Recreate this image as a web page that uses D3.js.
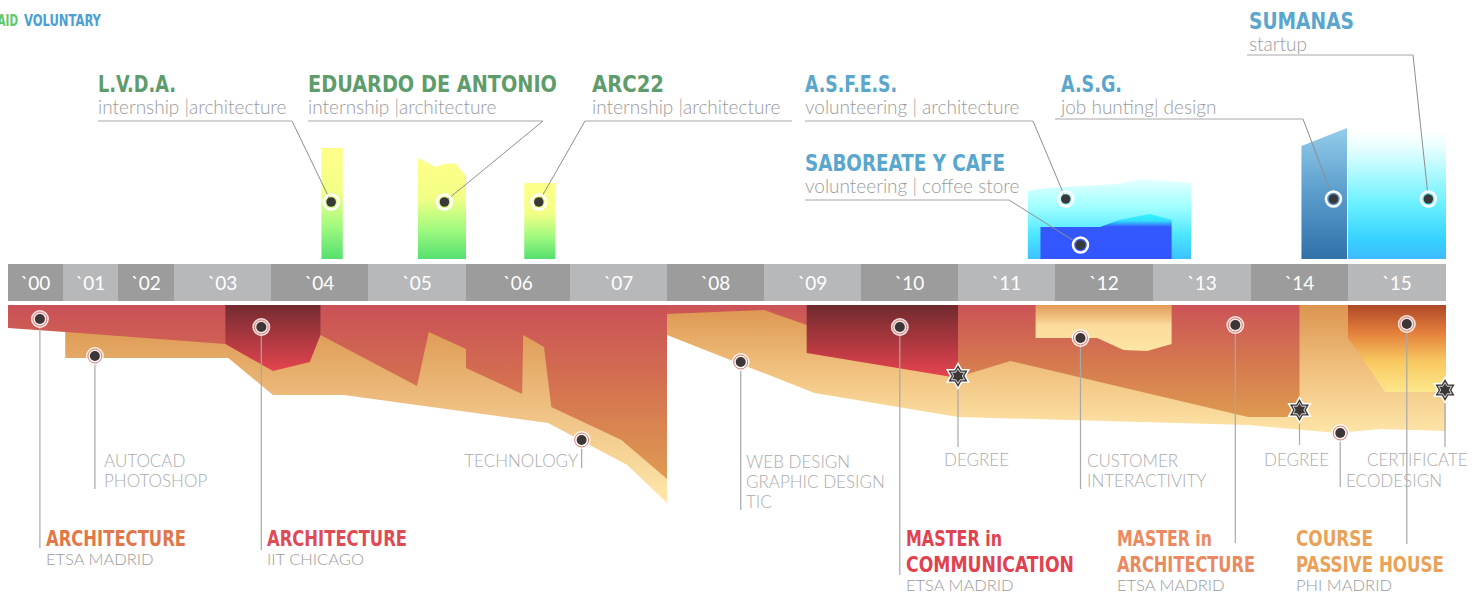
<!DOCTYPE html>
<meta charset="utf-8">
<style>
    body { margin: 0; background: #fff; }
    .head { font-family: 'DejaVu Sans Condensed', 'Liberation Sans Narrow', sans-serif; font-weight: bold; }
    .thin { font-family: Lato, 'Open Sans', sans-serif; font-weight: 300; }
</style>
<body>
<svg width="1477" height="596" id="chart"></svg>
<script src="https://d3js.org/d3.v7.min.js"></script>
<script>

    // ---- data -------------------------------------------------------------

    var yearLabels = ["`00","`01","`02","`03","`04","`05","`06","`07","`08","`09","`10","`11","`12","`13","`14","`15"];
    var yearStarts = d3.range(2000, 2016);

    // lower stream: [year, depth below the band]
    var etsaArea = [[2000,0],[2008,0],[2008,174],[2007.53,135],[2006.82,102],[2006.75,42],[2006.55,30],[2006.54,89],
        [2006.0,63],[2006.0,44],[2005.62,27],[2005.5,81],[2004.51,30],[2003.53,39],[2001.04,27],[2000,23]];
    var skillsArea1 = [[2001.04,20],[2008,20],[2008,198],[2007.59,160],[2006.79,118],[2004.75,90],[2004.02,90],
        [2003.56,53],[2001.04,53]];
    var iitArea = [[2003.53,0],[2004.51,0],[2004.51,30],[2004.4,57],[2004.02,66],[2003.53,39]];
    var skillsArea2 = [[2008,0],[2016,0],[2016,126],[2015.34,124],[2014.88,128],[2013.97,120],[2011,112],
        [2009.52,88],[2008,30]];
    var masterArchArea = [[2008,0],[2014.5,0],[2014.5,112],[2013.97,112],[2011.54,56],[2011,72],[2009.44,20],
        [2009,5],[2008,9]];
    var masterCommArea = [[2009.44,0],[2011,0],[2011,73],[2009.44,48]];
    var customerArea = [[2011.8,0],[2013.19,0],[2013.19,39],[2012.94,46],[2012.7,45],[2012.43,33],[2011.8,33]];
    var passiveArea = [[2015,0],[2016,0],[2016,87],[2015.38,87],[2015,33]];

    // upper stream: [year, height above the band]
    var lvdaArea = [[2004.52,0],[2004.52,111],[2004.74,111],[2004.74,0]];
    var eduardoArea = [[2005.51,0],[2005.51,101],[2005.69,92],[2005.78,95],[2005.89,96],[2006,83],[2006,0]];
    var arc22Area = [[2006.56,0],[2006.56,76],[2006.86,76],[2006.86,0]];
    var asfesArea = [[2011.72,0],[2011.72,68],[2011.91,71],[2012.63,75],[2012.88,80],[2013.39,76],[2013.39,0]];
    var saboreateArea = [[2011.85,0],[2011.85,32],[2012.46,32],[2012.65,39],[2012.97,45],[2013.19,39],[2013.19,0]];
    var asgArea = [[2014.52,0],[2014.52,113],[2014.99,131],[2014.99,0]];
    var sumanasArea = [[2015,0],[2015,128],[2016,128],[2016,0]];

    // studies
    var studyTitles = [["ARCHITECTURE"],["ARCHITECTURE"],["MASTER in","COMMUNICATION"],["MASTER in","ARCHITECTURE"],["COURSE","PASSIVE HOUSE"]];
    var studyPlaces = ["ETSA MADRID","IIT CHICAGO","ETSA MADRID","ETSA MADRID","PHI  MADRID"];
    var studyYears = [2000.58, 2003.9, 2010.4, 2013.84, 2015.6];
    var studyDepths = [14, 22, 22, 20, 19];
    var studyLineEnds = [243, 245, 270, 238, 239];

    // skills
    var skillTitles = [["AUTOCAD","PHOTOSHOP"],["TECHNOLOGY"],["WEB DESIGN","GRAPHIC DESIGN","TIC"],["DEGREE"],
        ["CUSTOMER","INTERACTIVITY"],["DEGREE"],["ECODESIGN"],["CERTIFICATE"]];
    var skillYears = [2001.58, 2007.12, 2008.76, 2011.0, 2012.26, 2014.5, 2014.92, 2015.99];
    var skillDepths = [51, 135, 57, 71, 33, 105, 128, 85];
    var skillKinds = ["dot","dot","dot","star","dot","star","dot","star"];
    var skillLineEnds = [184, 163, 205, 142, 184, 140, 182, 142];

    // jobs
    var jobNames = ["L.V.D.A.","EDUARDO DE ANTONIO","ARC22","A.S.F.E.S.","SABOREATE Y CAFE","A.S.G.","SUMANAS"];
    var jobRoles = ["internship |architecture","internship |architecture","internship |architecture",
        "volunteering | architecture","volunteering | coffee store","job hunting| design","startup"];
    var jobKinds = ["paid","paid","paid","voluntary","voluntary","voluntary","voluntary"];
    var jobYears = [2004.62, 2005.78, 2006.7, 2012.11, 2012.26, 2014.85, 2015.82];
    var jobHeights = [57, 57, 57, 60, 14, 60, 60];

    // ---- layout -----------------------------------------------------------

    var studyColors = ["#e2774a","#df4a55","#e0434f","#eb8a60","#e9a258"];
    var studyLabelX = [46, 267, 906, 1117, 1296];
    var studyTitleWidths = [[140],[140],[96,168],[95,138],[77,148]];
    var skillLabelPos = [
        {x: 104, y: 467, a: "start"}, {x: 578, y: 467, a: "end"}, {x: 746, y: 468, a: "start"},
        {x: 944, y: 466, a: "start"}, {x: 1087, y: 467, a: "start"}, {x: 1264, y: 466, a: "start"},
        {x: 1346, y: 487, a: "start"}, {x: 1367, y: 466, a: "start"}];
    var jobLabelPos = [
        {x: 98, y: 92, w: 78, ly: 121, l0: 98, l1: 292, from: 292},
        {x: 308, y: 92, w: 249, ly: 121, l0: 308, l1: 543, from: 543},
        {x: 592, y: 92, w: 72, ly: 121, l0: 585, l1: 792, from: 585},
        {x: 805, y: 92, w: 92, ly: 121, l0: 805, l1: 1033, from: 1033},
        {x: 805, y: 171, w: 200, ly: 200, l0: 805, l1: 1009, from: 1009},
        {x: 1061, y: 92, w: 61, ly: 119, l0: 1055, l1: 1303, from: 1303},
        {x: 1249, y: 29, w: 105, ly: 55, l0: 1247, l1: 1413, from: 1413}];

    var svg = d3.select("#chart");

    var x = d3.scaleLinear()
        .domain(d3.range(2000, 2017))
        .range([8,63,118,174,271,368,466,570,667,764,861,958,1055,1153,1251,1348,1446]);
    var yDown = d3.scaleLinear().domain([0, 300]).range([305, 605]);
    var yUp = d3.scaleLinear().domain([0, 200]).range([259, 59]);

    var defs = svg.append("defs");
    function grad(id, stops, y1, y2) {
        var g = defs.append("linearGradient").attr("id", id)
            .attr("x1", 0).attr("x2", 0);
        if (y1 === undefined) g.attr("y1", 0).attr("y2", 1);
        else g.attr("gradientUnits", "userSpaceOnUse").attr("y1", y1).attr("y2", y2);
        stops.forEach(function(s) {
            g.append("stop").attr("offset", s[0]).attr("stop-color", s[1]);
        });
    }
    grad("gEtsa", [[0,"#ca5157"],[0.45,"#d47150"],[1,"#df9c52"]], 305, 480);
    grad("gSkills1", [[0,"#de9b55"],[0.5,"#f0c386"],[1,"#fee8ab"]], 328, 503);
    grad("gIit", [[0,"#732b30"],[1,"#e6454f"]], 305, 372);
    grad("gArch", [[0,"#cb5357"],[0.5,"#d5784f"],[1,"#de9a50"]], 305, 418);
    grad("gSkills2", [[0,"#dc9550"],[0.5,"#f0c07e"],[1,"#fde5a8"]], 305, 433);
    grad("gComm", [[0,"#702a2e"],[1,"#e8444f"]], 305, 378);
    grad("gCustomer", [[0,"#e09a58"],[0.45,"#fbdb9c"],[1,"#fee6a4"]], 305, 351);
    grad("gPassive", [[0,"#ad4828"],[0.3,"#e27c3a"],[0.65,"#f8c860"],[1,"#fde88c"]], 305, 392);
    grad("gGreen", [[0,"#ffff88"],[0.4,"#f2ff86"],[0.7,"#a2fa7f"],[1,"#55e070"]]);
    grad("gAsfes", [[0,"#e6ffff"],[0.35,"#a0ffff"],[0.7,"#4ce6ff"],[1,"#3cc2ff"]]);
    grad("gSabor", [[0,"#30f4ff"],[0.15,"#35e0ff"],[0.29,"#3358ff"],[1,"#3355ff"]], 214, 259);
    grad("gAsg", [[0,"#94cdea"],[0.5,"#5a9ccc"],[1,"#3072a8"]]);
    grad("gSumanas", [[0,"#ffffff"],[0.12,"#eaffff"],[0.55,"#6ff2ff"],[0.85,"#36d2ff"],[1,"#40baff"]]);

    var lowPath = d3.line().x(function(d) { return x(d[0]); }).y(function(d) { return yDown(d[1]); });
    var upPath = d3.line().x(function(d) { return x(d[0]); }).y(function(d) { return yUp(d[1]); });

    // ---- year band --------------------------------------------------------
    var band = svg.append("g");
    band.selectAll("rect")
        .data(yearStarts)
        .enter().append("rect")
        .attr("x", function(d) { return x(d); })
        .attr("width", function(d) { return x(d + 1) - x(d); })
        .attr("y", 264)
        .attr("height", 37)
        .attr("fill", function(d, i) { return i % 2 ? "#b7b8ba" : "#9c9c9c"; });
    band.selectAll("text")
        .data(yearStarts)
        .enter().append("text")
        .attr("class", "thin")
        .style("font-weight", 400)
        .attr("x", function(d) { return (x(d) + x(d + 1)) / 2; })
        .attr("y", 290)
        .attr("text-anchor", "middle")
        .attr("font-size", "19px")
        .attr("fill", "#fff")
        .text(function(d, i) { return yearLabels[i]; });

    // ---- lower stream -----------------------------------------------------
    var low = svg.append("g");
    [[skillsArea1,"gSkills1"],[etsaArea,"gEtsa"],[iitArea,"gIit"],[skillsArea2,"gSkills2"],
     [masterArchArea,"gArch"],[masterCommArea,"gComm"],[customerArea,"gCustomer"],[passiveArea,"gPassive"]]
        .forEach(function(a) {
            low.append("path").attr("d", lowPath(a[0]) + "Z").attr("fill", "url(#" + a[1] + ")");
        });

    // leaders
    low.selectAll(".sline")
        .data(studyYears)
        .enter().append("line")
        .attr("x1", function(d) { return x(d); })
        .attr("x2", function(d) { return x(d); })
        .attr("y1", function(d, i) { return yDown(studyDepths[i]); })
        .attr("y2", function(d, i) { return yDown(studyLineEnds[i]); })
        .attr("stroke", "#a8a8a8").attr("stroke-width", 1.2);
    low.selectAll(".kline")
        .data(skillYears)
        .enter().append("line")
        .attr("x1", function(d) { return x(d); })
        .attr("x2", function(d) { return x(d); })
        .attr("y1", function(d, i) { return yDown(skillDepths[i]); })
        .attr("y2", function(d, i) { return yDown(skillLineEnds[i]); })
        .attr("stroke", "#a8a8a8").attr("stroke-width", 1.2);

    function hexagram(r) {
        var pts = [];
        for (var i = 0; i < 12; i++) {
            var a = Math.PI / 6 * i - Math.PI / 2, rr = i % 2 ? r / Math.sqrt(3) : r;
            pts.push([rr * Math.cos(a), rr * Math.sin(a)]);
        }
        return "M" + pts.join("L") + "Z";
    }

    function lowDot(g) {
        g.append("circle").attr("r", 9).attr("fill", "#fff").attr("fill-opacity", 0.85);
        g.append("circle").attr("r", 7).attr("fill", "none").attr("stroke", "#d57a72").attr("stroke-width", 1);
        g.append("circle").attr("r", 5).attr("fill", "#3d3637");
    }
    function lowStar(g) {
        g.append("path").attr("d", hexagram(14)).attr("fill", "#fff");
        g.append("path").attr("d", hexagram(11)).attr("fill", "#3d3637");
        g.append("path").attr("d", hexagram(7.5)).attr("fill", "none").attr("stroke", "#fff").attr("stroke-width", 0.8);
    }

    low.selectAll(".sdot")
        .data(studyYears)
        .enter().append("g")
        .attr("transform", function(d, i) { return "translate(" + x(d) + "," + yDown(studyDepths[i]) + ")"; })
        .each(function() { lowDot(d3.select(this)); });
    low.selectAll(".kdot")
        .data(skillYears)
        .enter().append("g")
        .attr("transform", function(d, i) { return "translate(" + x(d) + "," + yDown(skillDepths[i]) + ")"; })
        .each(function(d, i) { if (skillKinds[i] === "star") lowStar(d3.select(this)); else lowDot(d3.select(this)); });

    // study labels
    studyTitles.forEach(function(t, i) {
        var gx = studyLabelX[i];
        t.forEach(function(line, j) {
            svg.append("text").attr("class", "head")
                .attr("x", gx).attr("y", 546 + j * 26)
                .attr("font-size", "22px")
                .attr("textLength", studyTitleWidths[i][j])
                .attr("lengthAdjust", "spacingAndGlyphs")
                .attr("fill", studyColors[i])
                .text(line);
        });
        svg.append("text").attr("class", "thin")
            .attr("x", gx).attr("y", 546 + (t.length - 1) * 26 + 19)
            .attr("font-size", "16.5px").attr("fill", "#9b9b9b")
            .text(studyPlaces[i]);
    });

    // skill labels
    skillTitles.forEach(function(t, i) {
        var p = skillLabelPos[i];
        t.forEach(function(line, j) {
            svg.append("text").attr("class", "thin")
                .attr("x", p.x).attr("y", p.y + j * 20)
                .attr("text-anchor", p.a)
                .attr("font-size", "17px").attr("fill", "#ababab")
                .text(line);
        });
    });

    // ---- upper stream -----------------------------------------------------
    var up = svg.append("g");
    [[lvdaArea,"gGreen"],[eduardoArea,"gGreen"],[arc22Area,"gGreen"],[asfesArea,"gAsfes"],
     [saboreateArea,"gSabor"],[asgArea,"gAsg"],[sumanasArea,"gSumanas"]]
        .forEach(function(a) {
            up.append("path").attr("d", upPath(a[0]) + "Z").attr("fill", "url(#" + a[1] + ")");
        });

    var jobs = up.selectAll(".job")
        .data(jobNames)
        .enter().append("g");

    jobs.append("line")
        .attr("x1", function(d, i) { return jobLabelPos[i].l0; })
        .attr("x2", function(d, i) { return jobLabelPos[i].l1; })
        .attr("y1", function(d, i) { return jobLabelPos[i].ly; })
        .attr("y2", function(d, i) { return jobLabelPos[i].ly; })
        .attr("stroke", "#c4c4c4").attr("stroke-width", 1.5);
    jobs.append("line")
        .attr("x1", function(d, i) { return jobLabelPos[i].from; })
        .attr("y1", function(d, i) { return jobLabelPos[i].ly; })
        .attr("x2", function(d, i) { return x(jobYears[i]); })
        .attr("y2", function(d, i) { return yUp(jobHeights[i]); })
        .attr("stroke", "#8e8e8e").attr("stroke-width", 1);
    jobs.append("text").attr("class", "head")
        .attr("x", function(d, i) { return jobLabelPos[i].x; })
        .attr("y", function(d, i) { return jobLabelPos[i].y; })
        .attr("font-size", "23px")
        .attr("textLength", function(d, i) { return jobLabelPos[i].w; })
        .attr("lengthAdjust", "spacingAndGlyphs")
        .attr("fill", function(d, i) { return jobKinds[i] === "paid" ? "#5e9c6c" : "#5aa6cc"; })
        .text(function(d) { return d; });
    jobs.append("text").attr("class", "thin")
        .attr("x", function(d, i) { return jobLabelPos[i].x; })
        .attr("y", function(d, i) { return jobLabelPos[i].y + 22; })
        .attr("font-size", "19px").attr("fill", "#9b9b9b")
        .text(function(d, i) { return jobRoles[i]; });

    var upDots = jobs.append("g")
        .attr("transform", function(d, i) { return "translate(" + x(jobYears[i]) + "," + yUp(jobHeights[i]) + ")"; });
    upDots.append("circle").attr("r", 7.5).attr("fill", "none").attr("stroke", "#fff").attr("stroke-width", 2.5);
    upDots.append("circle").attr("r", 4.8).attr("fill", "#393939");

    // legend (the reference cuts "PAID" at the left edge)
    svg.append("text").attr("class", "head")
        .attr("x", 18).attr("y", 26).attr("text-anchor", "end")
        .attr("font-size", "15.5px")
        .attr("textLength", 27).attr("lengthAdjust", "spacingAndGlyphs")
        .attr("fill", "#5cc86a")
        .text("PAID");
    svg.append("text").attr("class", "head")
        .attr("x", 24).attr("y", 26)
        .attr("font-size", "15.5px")
        .attr("textLength", 77).attr("lengthAdjust", "spacingAndGlyphs")
        .attr("fill", "#4aa0d5")
        .text("VOLUNTARY");

</script>
</body>
